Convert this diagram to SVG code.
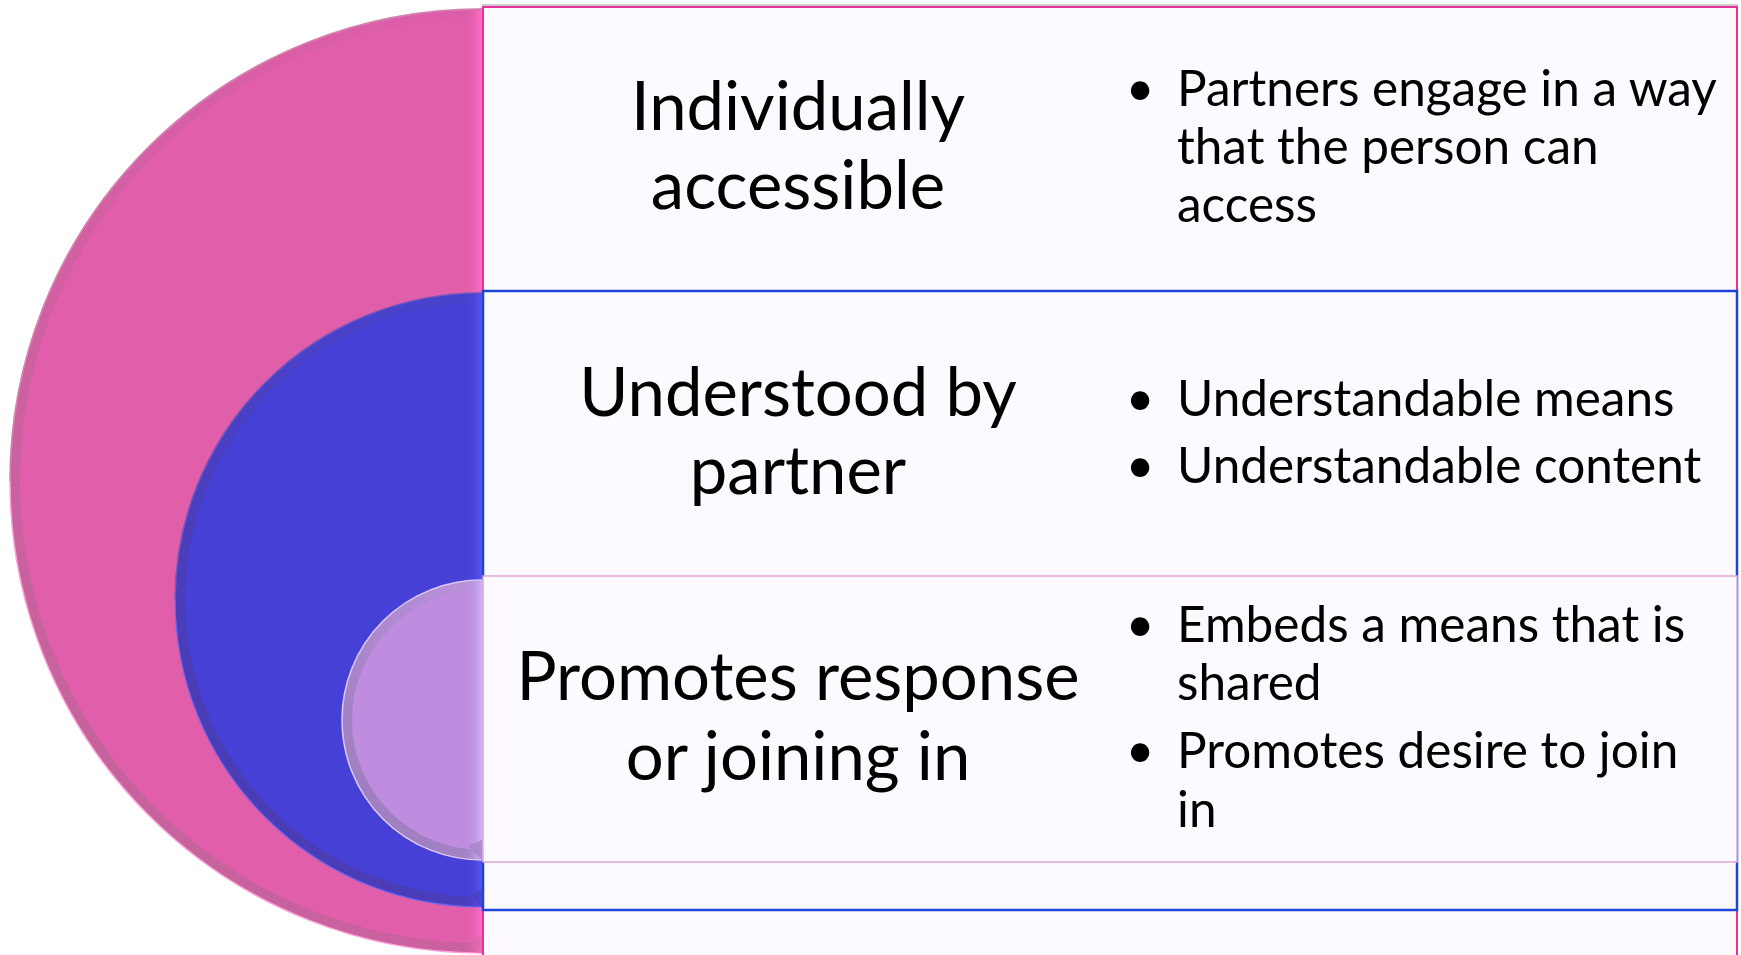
<svg xmlns="http://www.w3.org/2000/svg" width="1741" height="955" viewBox="0 0 1741 955">
  <style>
    .title { font-family: Lato, "Liberation Sans", sans-serif; font-size: 67px; fill: #000; text-anchor: middle; }
    .item { font-family: Lato, "Liberation Sans", sans-serif; font-size: 49.5px; fill: #000; }
    .dot { font-family: Lato, "Liberation Sans", sans-serif; font-size: 49.5px; fill: #000; text-anchor: middle; }
    .panel { fill: #fcfafe; }
  </style>
  <defs>
    <!-- rim shading for each half disk: plain at the top, darker towards the lower left -->
    <linearGradient id="rimPink" x1="0.8" y1="0" x2="0.2" y2="1">
      <stop offset="0" stop-color="#dc5ea8"/>
      <stop offset="0.5" stop-color="#d25fa2"/>
      <stop offset="1" stop-color="#c0649a"/>
    </linearGradient>
    <linearGradient id="rimBlue" x1="0.8" y1="0" x2="0.2" y2="1">
      <stop offset="0" stop-color="#4842cc"/>
      <stop offset="0.5" stop-color="#4a3fc0"/>
      <stop offset="1" stop-color="#4a3bb0"/>
    </linearGradient>
    <linearGradient id="rimLav" x1="0.8" y1="0" x2="0.2" y2="1">
      <stop offset="0" stop-color="#b890d8"/>
      <stop offset="1" stop-color="#9a7cbc"/>
    </linearGradient>
    <!-- highlight along the straight edge -->
    <linearGradient id="edgePink" x1="0" y1="0" x2="1" y2="0">
      <stop offset="0" stop-color="#e15eab" stop-opacity="0"/>
      <stop offset="1" stop-color="#ff6ec8"/>
    </linearGradient>
    <linearGradient id="edgeBlue" x1="0" y1="0" x2="1" y2="0">
      <stop offset="0" stop-color="#4640d6" stop-opacity="0"/>
      <stop offset="1" stop-color="#5a56f2"/>
    </linearGradient>
    <linearGradient id="edgeLav" x1="0" y1="0" x2="1" y2="0">
      <stop offset="0" stop-color="#c08ce0" stop-opacity="0"/>
      <stop offset="1" stop-color="#cab6fa"/>
    </linearGradient>
    <clipPath id="clipPink"><path d="M482,9 A472,472 0 0 0 482,953 Z"/></clipPath>
    <clipPath id="clipBlue"><path d="M482,293 A307,307 0 0 0 482,907 Z"/></clipPath>
    <clipPath id="clipLav"><path d="M482,580 A140,140 0 0 0 482,860 Z"/></clipPath>
  </defs>

  <rect width="1741" height="955" fill="#ffffff"/>

  <!-- outer ring: individually accessible -->
  <g id="ring-outer">
    <path d="M482,9 A472,472 0 0 0 482,953 Z" fill="url(#rimPink)" stroke="#ff9fd8" stroke-width="1.5"/>
    <path d="M482,19 A462,462 0 0 0 482,943 Z" fill="#e15eab"/>
    <g clip-path="url(#clipPink)">
      <rect x="466" y="9" width="16" height="944" fill="url(#edgePink)"/>
      <polygon points="482,953 470,941 482,935" fill="#d86aa8" opacity="0.7"/>
    </g>
    <path d="M482,9 A472,472 0 0 0 10,481" fill="none" stroke="#b07090" stroke-width="1.5" opacity="0.6"/>
  </g>
  <g id="panel-outer">
    <line x1="482" y1="5" x2="1738" y2="5" stroke="#9a9a9a" stroke-width="1"/>
    <rect x="483" y="7" width="1254" height="960" class="panel" stroke="#e8309a" stroke-width="2"/>
  </g>

  <!-- middle ring: understood by partner -->
  <g id="ring-middle">
    <path d="M482,293 A307,307 0 0 0 482,907 Z" fill="url(#rimBlue)" stroke="#6a66f0" stroke-width="1.2"/>
    <path d="M482,303 A297,297 0 0 0 482,897 Z" fill="#4640d6"/>
    <g clip-path="url(#clipBlue)">
      <rect x="466" y="293" width="16" height="614" fill="url(#edgeBlue)"/>
      <polygon points="482,907 470,895 482,889" fill="#4a3ec0" opacity="0.7"/>
    </g>
    <path d="M482,293 A307,307 0 0 0 175,600" fill="none" stroke="#6a4a9a" stroke-width="1.5" opacity="0.5"/>
  </g>
  <g id="panel-middle">
    <rect x="483" y="291" width="1254" height="619" class="panel" stroke="#1d44d8" stroke-width="2.5"/>
  </g>

  <!-- inner ring: promotes response or joining in -->
  <g id="ring-inner">
    <path d="M482,580 A140,140 0 0 0 482,860 Z" fill="url(#rimLav)" stroke="#dccaf6" stroke-width="1.5"/>
    <path d="M482,590 A130,130 0 0 0 482,850 Z" fill="#c08ce0"/>
    <g clip-path="url(#clipLav)">
      <rect x="466" y="580" width="16" height="280" fill="url(#edgeLav)"/>
      <polygon points="482,860 468,846 482,840" fill="#9c80c4" opacity="0.7"/>
    </g>
  </g>
  <g id="panel-inner">
    <rect x="483" y="576" width="1254" height="286" class="panel" stroke="#e0a6d6" stroke-width="1.5"/>
  </g>

  <!-- labels -->
  <g id="label-outer">
    <text class="title" x="798" y="130">Individually</text>
    <text class="title" x="798" y="209">accessible</text>
    <text class="dot" x="1140" y="106">•</text>
    <text class="item" x="1177" y="106">Partners engage in a way</text>
    <text class="item" x="1177" y="164">that the person can</text>
    <text class="item" x="1177" y="222">access</text>
  </g>
  <g id="label-middle">
    <text class="title" x="798" y="416">Understood by</text>
    <text class="title" x="798" y="494">partner</text>
    <text class="dot" x="1140" y="416">•</text>
    <text class="item" x="1177" y="416">Understandable means</text>
    <text class="dot" x="1140" y="483">•</text>
    <text class="item" x="1177" y="483">Understandable content</text>
  </g>
  <g id="label-inner">
    <text class="title" x="798" y="700">Promotes response</text>
    <text class="title" x="798" y="780">or joining in</text>
    <text class="dot" x="1140" y="642">•</text>
    <text class="item" x="1177" y="642">Embeds a means that is</text>
    <text class="item" x="1177" y="700">shared</text>
    <text class="dot" x="1140" y="768">•</text>
    <text class="item" x="1177" y="768">Promotes desire to join</text>
    <text class="item" x="1177" y="827">in</text>
  </g>
</svg>
